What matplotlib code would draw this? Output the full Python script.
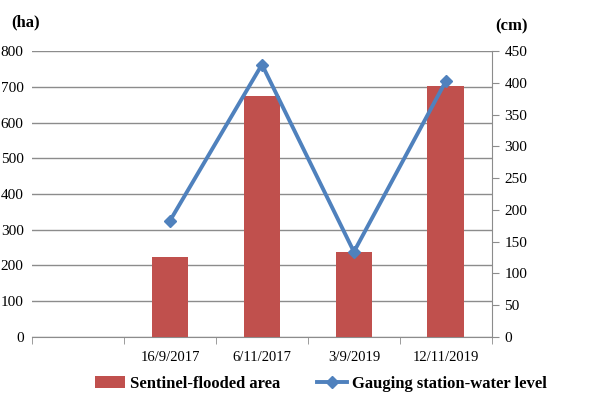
import numpy as np
import matplotlib
matplotlib.use("Agg")
from matplotlib import pyplot as plt

dates = ["", "16/9/2017", "6/11/2017", "3/9/2019", "12/11/2019"]
flooded_area = [np.nan, 225, 674, 239, 703]     # ha
water_level = [np.nan, 183, 429, 134, 403]      # cm

plt.rcParams["font.family"] = "Liberation Serif"

fig = plt.figure(figsize=(6.05, 4.03), dpi=100)
ax = fig.add_axes([0.053, 0.164, 0.760, 0.709])
ax2 = ax.twinx()

x = np.arange(len(dates))
bars = ax.bar(x, flooded_area, width=0.4, color="#C0504D", zorder=3,
              label="Sentinel-flooded area")
line, = ax2.plot(x, water_level, color="#4F81BD", lw=2.8, marker="D",
                 markersize=6, zorder=4, label="Gauging station-water level")

ax.set_xlim(-0.5, len(dates) - 0.5)
ax.set_ylim(0, 800)
ax.set_yticks(np.arange(0, 801, 100))
ax2.set_ylim(0, 450)
ax2.set_yticks(np.arange(0, 451, 50))
ax.yaxis.grid(True, color="#8c8c8c", lw=1.0, zorder=0)
ax.set_axisbelow(True)

ax.set_xticks(x)
ax.set_xticklabels(dates, fontsize=10.5)
ax.set_xticks(np.arange(-0.5, len(dates)), minor=True)
ax.tick_params(axis="x", which="major", length=0, pad=10)
ax.tick_params(axis="x", which="minor", length=5, color="#8c8c8c")
ax.tick_params(axis="y", length=0, labelsize=11, pad=6)
ax2.tick_params(axis="y", length=5, color="#8c8c8c", labelsize=11, pad=4)

for a in (ax, ax2):
    for s in ("top", "left"):
        a.spines[s].set_visible(False)
ax.spines["right"].set_visible(False)
ax2.spines["bottom"].set_visible(False)
ax.spines["bottom"].set_color("#8c8c8c")
ax2.spines["right"].set_color("#8c8c8c")

fig.text(0.018, 0.935, "(ha)", fontsize=12, fontweight="bold")
fig.text(0.818, 0.925, "(cm)", fontsize=12, fontweight="bold")

fig.legend(handles=[bars, line], loc="lower center", bbox_to_anchor=(0.53, -0.01),
           ncol=2, frameon=False, prop={"weight": "bold", "size": 12},
           handlelength=1.8, handletextpad=0.3, columnspacing=2.2)

fig.savefig("out.png", dpi=100)
